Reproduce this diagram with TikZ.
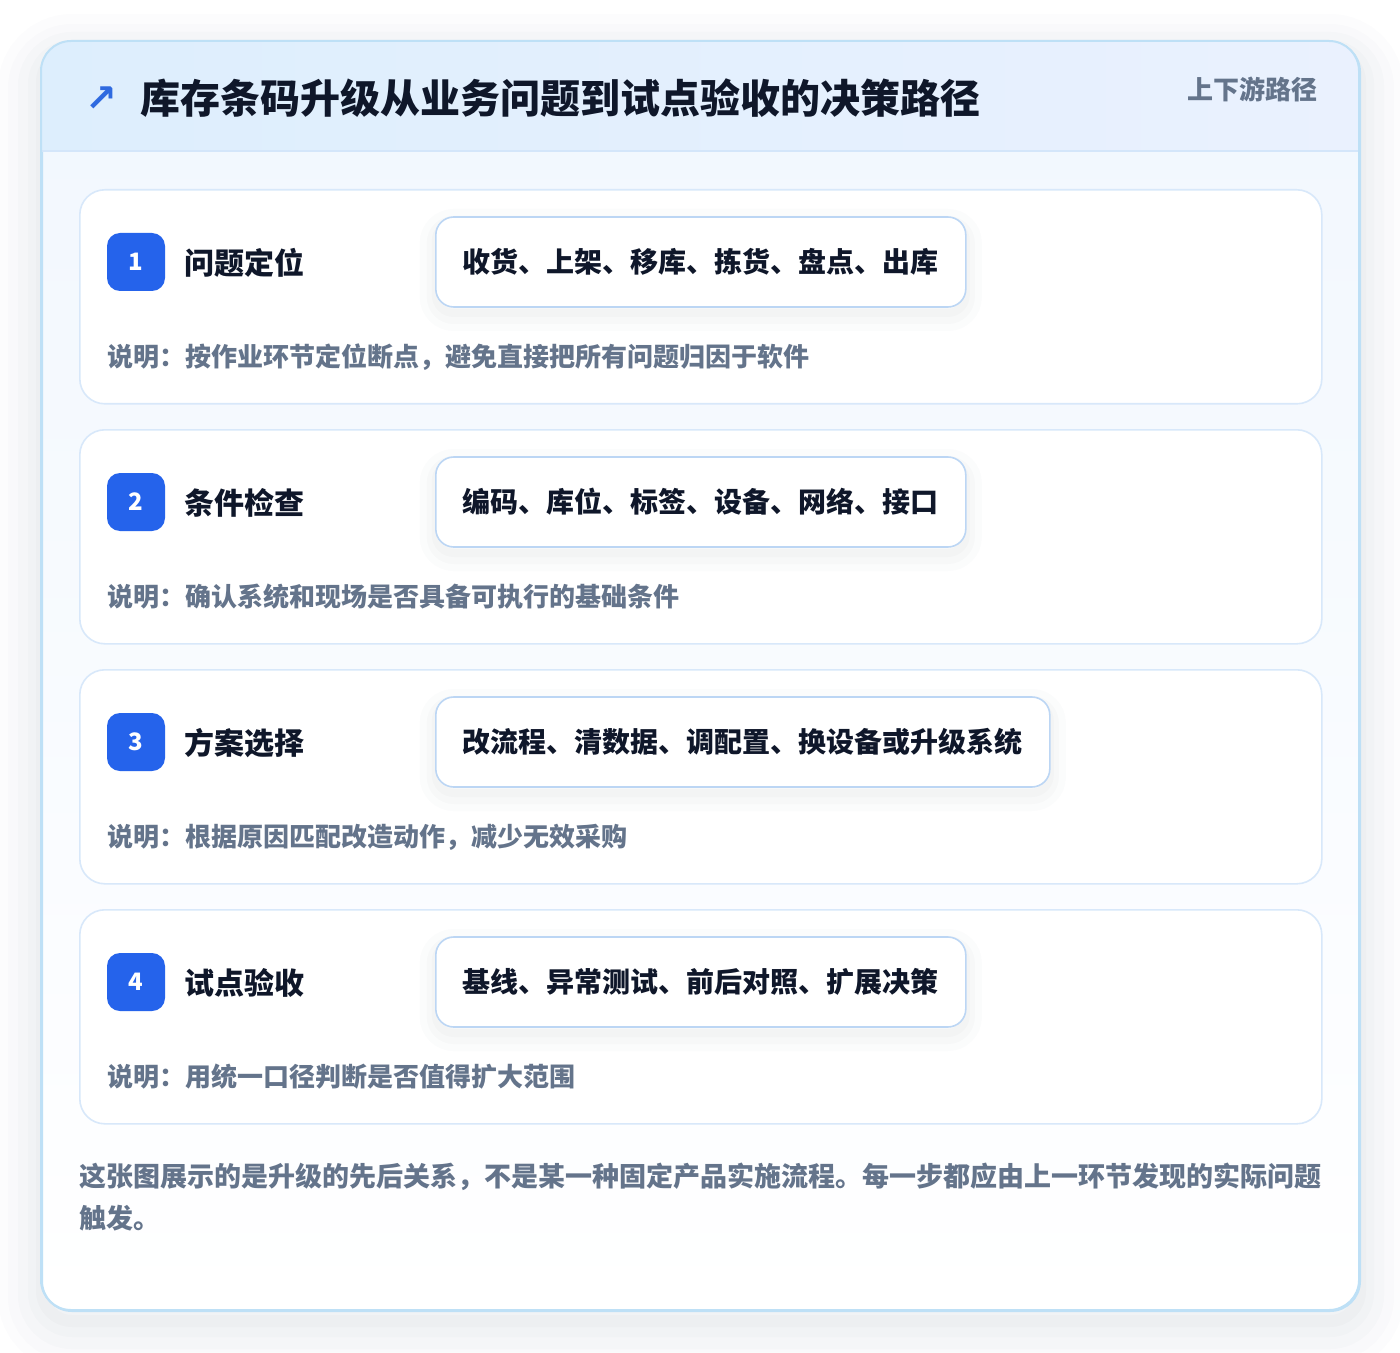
\documentclass[tikz,border=0pt]{standalone}
\usepackage{fontspec}
\setmainfont{Noto Sans CJK SC}
\newfontfamily\symfont{DejaVu Sans}
\usepackage{xcolor}
\definecolor{panelline}{HTML}{BEE0F6}
\definecolor{hdrleft}{HTML}{DDEEFD}
\definecolor{hdrright}{HTML}{EAF1FE}
\definecolor{hdrrule}{HTML}{D4E6FA}
\definecolor{bodytop}{HTML}{F1F7FE}
\definecolor{cardline}{HTML}{D8E8FA}
\definecolor{tagline}{HTML}{BCD6F4}
\definecolor{badgeblue}{HTML}{2563EB}
\definecolor{arrowblue}{HTML}{2F6AE0}
\definecolor{inkdark}{HTML}{0F172A}
\definecolor{inkgray}{HTML}{64748B}
\definecolor{shadowgray}{HTML}{334155}
\tikzset{
  panel/.style={draw=panelline,line width=1pt,rounded corners=15pt,anchor=north west,inner sep=0,
    minimum width=659pt,minimum height=634.5pt,top color=bodytop,bottom color=white,
    preaction={draw=shadowgray,draw opacity=0.012,line width=44pt,transform canvas={yshift=-8pt}},
    preaction={draw=shadowgray,draw opacity=0.012,line width=34pt,transform canvas={yshift=-8pt}},
    preaction={draw=shadowgray,draw opacity=0.014,line width=24pt,transform canvas={yshift=-7pt}},
    preaction={draw=shadowgray,draw opacity=0.016,line width=14pt,transform canvas={yshift=-6pt}},
    preaction={draw=shadowgray,draw opacity=0.018,line width=6pt,transform canvas={yshift=-5pt}}},
  card/.style={draw=cardline,line width=0.8pt,fill=white,rounded corners=12.5pt,anchor=north west,inner sep=0,
    minimum width=621pt,minimum height=107pt},
  badge/.style={fill=badgeblue,rounded corners=6.5pt,minimum size=29pt,inner sep=0,text=white,font=\bfseries\fontsize{12}{12}\selectfont},
  step title/.style={anchor=west,inner sep=0,text=inkdark,font=\bfseries\fontsize{15}{15}\selectfont},
  tag/.style={draw=tagline,line width=0.8pt,fill=white,rounded corners=9pt,anchor=west,inner xsep=13.5pt,
    minimum height=45pt,text=inkdark,font=\bfseries\fontsize{14}{14}\selectfont,
    preaction={draw=shadowgray,draw opacity=0.015,line width=16pt,transform canvas={yshift=-4pt}},
    preaction={draw=shadowgray,draw opacity=0.018,line width=9pt,transform canvas={yshift=-4pt}},
    preaction={draw=shadowgray,draw opacity=0.02,line width=4pt,transform canvas={yshift=-3pt}}},
  note/.style={anchor=west,inner sep=0,text=inkgray,font=\bfseries\fontsize{13}{13}\selectfont}
}

\begin{document}
\begin{tikzpicture}[x=0.5pt,y=-0.5pt]
    \useasboundingbox[fill=white] (0,0) rectangle (1400,1352);

    % outer panel and header band
    \node[panel] (panel) at (41,41) {};
    \begin{scope}
      \clip[rounded corners=15pt] (41,41) rectangle (1359,1310);
      \shade[left color=hdrleft,right color=hdrright] (41,41) rectangle (1359,151);
    \end{scope}
    \draw[hdrrule,line width=0.8pt] (41,151) -- (1359,151);
    \draw[panelline,line width=1pt,rounded corners=15pt] (41,41) rectangle (1359,1310);

    \node[anchor=center,inner sep=0,text=arrowblue,font=\symfont\bfseries\fontsize{19}{19}\selectfont] (icon) at (101,99) {↗};
    \node[anchor=west,inner sep=0,text=inkdark,font=\bfseries\fontsize{20}{20}\selectfont] (title) at (140,98) {库存条码升级从业务问题到试点验收的决策路径};
    \node[anchor=east,inner sep=0,text=inkgray,font=\bfseries\fontsize{13}{13}\selectfont] (flow) at (1318,89) {上下游路径};

    % step 1
    \node[card] (card1) at (79,189) {};
    \node[badge] (b1) at (136,262) {1};
    \node[step title] (t1) at (184,263) {问题定位};
    \node[tag] (tag1) at (435,262) {收货、上架、移库、拣货、盘点、出库};
    \node[note] (n1) at (107,357) {说明：按作业环节定位断点，避免直接把所有问题归因于软件};

    % step 2
    \node[card] (card2) at (79,429) {};
    \node[badge] (b2) at (136,502) {2};
    \node[step title] (t2) at (184,503) {条件检查};
    \node[tag] (tag2) at (435,502) {编码、库位、标签、设备、网络、接口};
    \node[note] (n2) at (107,597) {说明：确认系统和现场是否具备可执行的基础条件};

    % step 3
    \node[card] (card3) at (79,669) {};
    \node[badge] (b3) at (136,742) {3};
    \node[step title] (t3) at (184,743) {方案选择};
    \node[tag] (tag3) at (435,742) {改流程、清数据、调配置、换设备或升级系统};
    \node[note] (n3) at (107,837) {说明：根据原因匹配改造动作，减少无效采购};

    % step 4
    \node[card] (card4) at (79,909) {};
    \node[badge] (b4) at (136,982) {4};
    \node[step title] (t4) at (184,983) {试点验收};
    \node[tag] (tag4) at (435,982) {基线、异常测试、前后对照、扩展决策};
    \node[note] (n4) at (107,1077) {说明：用统一口径判断是否值得扩大范围};

    \node[anchor=base west,inner sep=0,align=left,text=inkgray,font=\bfseries\fontsize{13.5}{21}\selectfont] (footer) at (79,1228)
      {这张图展示的是升级的先后关系，不是某一种固定产品实施流程。每一步都应由上一环节发现的实际问题\\触发。};
\end{tikzpicture}
\end{document}
